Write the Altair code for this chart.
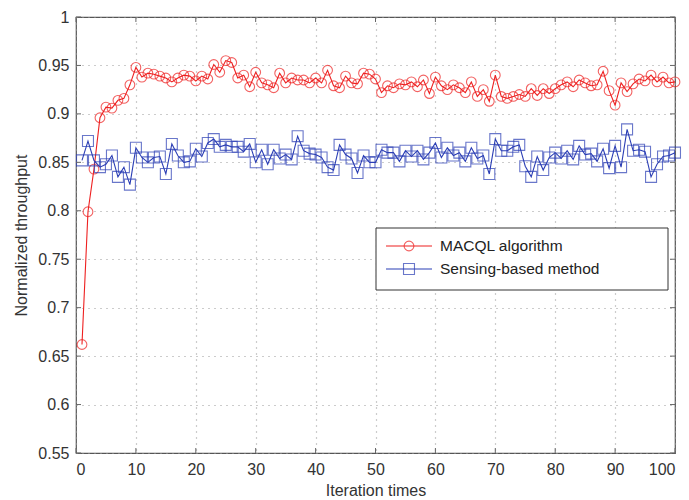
import altair as alt
import pandas as pd

iterations = list(range(1, 101))

macql = [0.662, 0.799, 0.843, 0.896, 0.907, 0.906, 0.914, 0.916, 0.930, 0.948,
         0.938, 0.942, 0.941, 0.939, 0.937, 0.933, 0.937, 0.940, 0.939, 0.934,
         0.939, 0.936, 0.951, 0.943, 0.955, 0.953, 0.937, 0.940, 0.928, 0.943,
         0.932, 0.930, 0.927, 0.942, 0.932, 0.937, 0.935, 0.935, 0.932, 0.937,
         0.932, 0.945, 0.929, 0.927, 0.939, 0.932, 0.931, 0.942, 0.941, 0.936,
         0.922, 0.929, 0.927, 0.931, 0.930, 0.933, 0.928, 0.935, 0.921, 0.938,
         0.929, 0.925, 0.930, 0.927, 0.922, 0.933, 0.918, 0.925, 0.913, 0.940,
         0.918, 0.916, 0.918, 0.920, 0.918, 0.926, 0.919, 0.926, 0.921, 0.926,
         0.930, 0.933, 0.928, 0.935, 0.932, 0.929, 0.930, 0.944, 0.924, 0.909,
         0.932, 0.923, 0.931, 0.936, 0.934, 0.940, 0.933, 0.938, 0.932, 0.933]

sensing = [0.852, 0.872, 0.852, 0.845, 0.848, 0.857, 0.835, 0.845, 0.827, 0.865,
           0.855, 0.850, 0.855, 0.856, 0.838, 0.869, 0.857, 0.850, 0.851, 0.864,
           0.856, 0.870, 0.874, 0.866, 0.868, 0.866, 0.866, 0.861, 0.869, 0.850,
           0.863, 0.848, 0.863, 0.854, 0.858, 0.853, 0.877, 0.862, 0.859, 0.858,
           0.855, 0.845, 0.842, 0.868, 0.858, 0.854, 0.839, 0.857, 0.850, 0.850,
           0.863, 0.860, 0.860, 0.851, 0.862, 0.856, 0.862, 0.853, 0.860, 0.870,
           0.855, 0.865, 0.857, 0.860, 0.851, 0.865, 0.854, 0.857, 0.838, 0.874,
           0.862, 0.862, 0.866, 0.868, 0.846, 0.835, 0.856, 0.842, 0.855, 0.860,
           0.854, 0.862, 0.853, 0.867, 0.858, 0.859, 0.851, 0.864, 0.844, 0.867,
           0.845, 0.884, 0.862, 0.863, 0.861, 0.835, 0.848, 0.856, 0.857, 0.860]

series_names = ["MACQL algorithm", "Sensing-based method"]
series_colors = ["#ee2020", "#2b3eb5"]
series_shapes = ["circle", "square"]
series_sizes = [95, 120]

x_ticks = [0, 10, 20, 30, 40, 50, 60, 70, 80, 90, 100]
y_ticks = [0.55, 0.6, 0.65, 0.7, 0.75, 0.8, 0.85, 0.9, 0.95, 1.0]

W, H = 599, 436
FONT = "Liberation Sans"

df = pd.DataFrame({
    "iter": iterations * 2,
    "value": macql + sensing,
    "series": [series_names[0]] * 100 + [series_names[1]] * 100,
})

xscale = alt.Scale(domain=[0, 100], nice=False, zero=False)
yscale = alt.Scale(domain=[0.55, 1.0], nice=False, zero=False)
color = alt.Color("series:N", scale=alt.Scale(domain=series_names, range=series_colors), legend=None)
shape = alt.Shape("series:N", scale=alt.Scale(domain=series_names, range=series_shapes), legend=None)
size = alt.Size("series:N", scale=alt.Scale(domain=series_names, range=series_sizes), legend=None)

x_axis = alt.Axis(values=x_ticks, title="Iteration times", grid=True,
                  gridDash=[1, 5], gridColor="#999", gridWidth=1.2,
                  ticks=False, domain=False, labelPadding=8,
                  labelFontSize=16, titleFontSize=16, titlePadding=5,
                  labelColor="#333", titleColor="#333", titleFontWeight="normal",
                  labelFont=FONT, titleFont=FONT)
y_axis = alt.Axis(values=y_ticks, format="~g", title="Normalized throughput", grid=True,
                  gridDash=[1, 5], gridColor="#999", gridWidth=1.2,
                  ticks=False, domain=False, labelPadding=7,
                  labelFontSize=16, titleFontSize=16, titlePadding=8,
                  labelColor="#333", titleColor="#333", titleFontWeight="normal",
                  labelFont=FONT, titleFont=FONT)

x_enc = alt.X("iter:Q", scale=xscale, axis=x_axis)
y_enc = alt.Y("value:Q", scale=yscale, axis=y_axis)

lines = alt.Chart(df).mark_line(strokeWidth=1.1).encode(
    x=x_enc, y=y_enc, color=color, detail="series:N")

points = alt.Chart(df).mark_point(filled=False, strokeWidth=1.1).encode(
    x=x_enc, y=y_enc, color=color, shape=shape, size=size)

# inward tick marks (MATLAB style) on all four sides
xt = pd.DataFrame({"iter": x_ticks})
yt = pd.DataFrame({"value": y_ticks})
tick_col = "#666"
xtick_b = alt.Chart(xt).mark_rule(color=tick_col).encode(
    x=x_enc, y=alt.value(H), y2=alt.value(H - 5))
xtick_t = alt.Chart(xt).mark_rule(color=tick_col).encode(
    x=x_enc, y=alt.value(0), y2=alt.value(5))
ytick_l = alt.Chart(yt).mark_rule(color=tick_col).encode(
    y=y_enc, x=alt.value(0), x2=alt.value(5))
ytick_r = alt.Chart(yt).mark_rule(color=tick_col).encode(
    y=y_enc, x=alt.value(W), x2=alt.value(W - 5))

# legend box (drawn manually, MATLAB style)
LX0, LX1, LY0, LY1 = 300, 592, 211, 273
one = pd.DataFrame({"a": [0]})
leg_layers = [alt.Chart(one).mark_rect(fill="white", stroke="#333", strokeWidth=1).encode(
    x=alt.value(LX0), x2=alt.value(LX1), y=alt.value(LY0), y2=alt.value(LY1))]
for i, name in enumerate(series_names):
    ly = LY0 + 18 + 23 * i
    leg_layers.append(alt.Chart(one).mark_rule(strokeWidth=1.1, color=series_colors[i]).encode(
        x=alt.value(LX0 + 10), x2=alt.value(LX0 + 56), y=alt.value(ly)))
    leg_layers.append(alt.Chart(one).mark_point(
        filled=False, strokeWidth=1.1, color=series_colors[i],
        shape=series_shapes[i], size=series_sizes[i]).encode(
        x=alt.value(LX0 + 33), y=alt.value(ly)))
    leg_layers.append(alt.Chart(one).mark_text(
        align="left", baseline="middle", fontSize=15.5, font=FONT, color="#222",
        text=name).encode(x=alt.value(LX0 + 64), y=alt.value(ly)))

chart = alt.layer(
    lines, points, xtick_b, xtick_t, ytick_l, ytick_r, *leg_layers
).properties(
    width=W, height=H,
    padding={"left": 76, "top": 17, "right": 14, "bottom": 47},
    autosize=alt.AutoSizeParams(type="none"),
    background="white",
).configure_view(
    stroke="#555", strokeWidth=1.2
)

chart.save("out.html", embed_options={"renderer": "svg", "actions": False})
